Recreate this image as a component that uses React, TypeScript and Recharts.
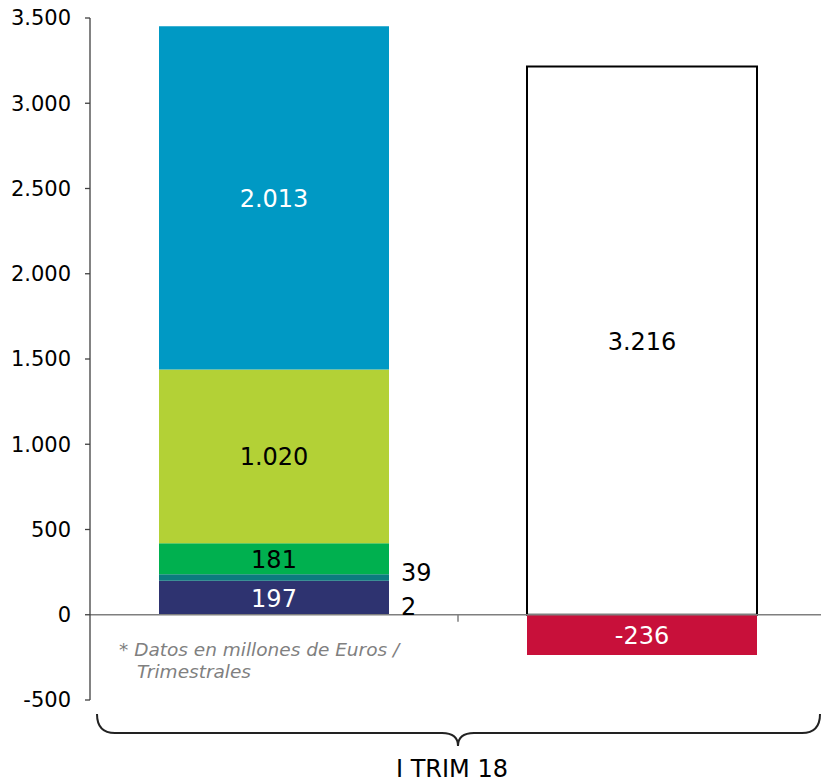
import { Bar, BarChart, LabelList, ReferenceLine, XAxis, YAxis } from "recharts";

const FONT = "'DejaVu Sans', Verdana, sans-serif";

// stacked components of the first column, bottom to top
const stackValues = [2, 197, 39, 181, 1020, 2013];
const stackColors = ["#2E3370", "#2E3370", "#0B7B7F", "#00B04F", "#B3D136", "#0099C4"];
const stackLabelColors = ["#000", "#fff", "#000", "#000", "#000", "#fff"];
// segments too thin to hold their own number get it beside the bar
const outsideLabel = [true, false, true, false, false, false];

const totalValue = 3216;
const negativeValue = -236;

const categories = ["componentes", "total"];
const periodLabel = "I TRIM 18";
const yTicks = [-500, 0, 500, 1000, 1500, 2000, 2500, 3000, 3500];
const noteLines = ["* Datos en millones de Euros /", "Trimestrales"];

const data = categories.map((name, i) => {
  const row: Record<string, string | number | null> = { name };
  stackValues.forEach((v, k) => {
    row[`s${k}`] = i === 0 ? v : null;
  });
  row.total = i === 1 ? totalValue : null;
  row.neg = i === 1 ? negativeValue : null;
  return row;
});

const fmt = (v: number) => String(v).replace(/\B(?=(\d{3})+(?!\d))/g, ".");

const makeLabel = (color: string, outside: boolean) => (props: any) => {
  const { x, y, width, height, value } = props;
  if (value == null || value === 0) return null;
  if (outside) {
    return (
      <text x={x + width + 12} y={Math.max(y, y + height)} fill="#000" fontSize={24} fontFamily={FONT}>
        {fmt(value)}
      </text>
    );
  }
  return (
    <text
      x={x + width / 2}
      y={y + height / 2 + 1}
      fill={color}
      fontSize={24}
      fontFamily={FONT}
      textAnchor="middle"
      dominantBaseline="central"
    >
      {fmt(value)}
    </text>
  );
};

// tick between the two columns on the zero line, plus the footnote
const ZeroLineExtras = (props: any) => {
  const vb = props.viewBox;
  if (!vb) return null;
  const mid = vb.x + vb.width / 2;
  return (
    <g>
      <line x1={mid} y1={vb.y} x2={mid} y2={vb.y + 7} stroke="#7f7f7f" strokeWidth={1.5} />
      <text x={vb.x + 29} y={vb.y + 41} fill="#808080" fontSize={18.5} fontStyle="italic" fontFamily={FONT}>
        {noteLines[0]}
      </text>
      <text x={vb.x + 47} y={vb.y + 63} fill="#808080" fontSize={18.5} fontStyle="italic" fontFamily={FONT}>
        {noteLines[1]}
      </text>
    </g>
  );
};

// curly brace grouping both columns under the period label
const PeriodBrace = (props: any) => {
  const vb = props.viewBox;
  if (!vb) return null;
  const L = vb.x + 7;
  const R = vb.x + vb.width - 6;
  const C = vb.x + vb.width / 2;
  const top = vb.y + 14;
  const mid = vb.y + 33;
  const tip = vb.y + 46;
  const d = `M${L},${top} Q${L},${mid} ${L + 18},${mid} H${C - 16} Q${C},${mid} ${C},${tip} Q${C},${mid} ${C + 16},${mid} H${R - 18} Q${R},${mid} ${R},${top}`;
  return (
    <g>
      <path d={d} fill="none" stroke="#222" strokeWidth={2} />
      <text x={C - 6} y={vb.y + 77} fill="#000" fontSize={24} fontFamily={FONT} textAnchor="middle">
        {periodLabel}
      </text>
    </g>
  );
};

export default function App() {
  return (
    <div style={{ position: "absolute", left: 0, top: 0, width: 821, height: 782, overflow: "hidden", background: "#fff" }}>
      <BarChart
        width={826}
        height={782}
        data={data}
        stackOffset="sign"
        barCategoryGap="18.75%"
        margin={{ top: 18, right: 0, bottom: 0, left: 0 }}
        style={{ fontFamily: FONT }}
      >
        <XAxis
          dataKey="name"
          height={82}
          axisLine={false}
          tickLine={false}
          tick={false}
          label={<PeriodBrace />}
        />
        <YAxis
          width={90}
          domain={[-500, 3500]}
          ticks={yTicks}
          interval={0}
          tickFormatter={fmt}
          tickSize={5}
          tickMargin={14}
          axisLine={{ stroke: "#404040", strokeWidth: 1.3 }}
          tickLine={{ stroke: "#404040", strokeWidth: 1.3 }}
          tick={{ fill: "#000", fontSize: 21, fontFamily: FONT }}
        />
        {stackValues.map((_, k) => (
          <Bar key={k} dataKey={`s${k}`} stackId="a" fill={stackColors[k]} isAnimationActive={false}>
            <LabelList dataKey={`s${k}`} content={makeLabel(stackLabelColors[k], outsideLabel[k])} />
          </Bar>
        ))}
        <Bar dataKey="total" stackId="a" fill="#fff" stroke="#000" strokeWidth={2} isAnimationActive={false}>
          <LabelList dataKey="total" content={makeLabel("#000", false)} />
        </Bar>
        <Bar dataKey="neg" stackId="a" fill="#C8103A" isAnimationActive={false}>
          <LabelList dataKey="neg" content={makeLabel("#fff", false)} />
        </Bar>
        <ReferenceLine y={0} stroke="#7f7f7f" strokeWidth={1.5} label={<ZeroLineExtras />} />
      </BarChart>
    </div>
  );
}
